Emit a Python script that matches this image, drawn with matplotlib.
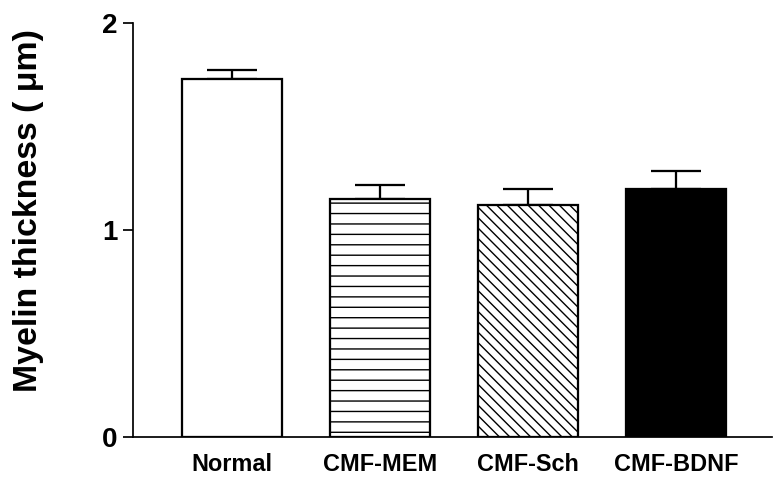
import matplotlib.pyplot as plt
import numpy as np

plt.rcParams['font.family'] = ['Liberation Sans', 'DejaVu Sans']
plt.rcParams['font.weight'] = 'bold'
plt.rcParams['hatch.linewidth'] = 0.8

groups = ["Normal", "CMF-MEM", "CMF-Sch", "CMF-BDNF"]
means = [1.73, 1.15, 1.12, 1.20]
sems = [0.044, 0.068, 0.077, 0.087]

dpi = 125
fig = plt.figure(figsize=(773 / dpi, 484 / dpi), dpi=dpi)
ax = fig.add_axes([133 / 773, 1 - 437 / 484, 639 / 773, 414 / 484])

x = np.arange(len(groups))
faces = ["white", "white", "white", "black"]
hatches = ["", "--", "\\\\\\\\", ""]
ax.errorbar(x, means, yerr=[np.zeros(len(means)), sems], fmt="none",
            ecolor="black", elinewidth=1.3, capsize=14.5, capthick=1.3, zorder=1)
ax.bar(x, means, width=0.67, color=faces, edgecolor="black", linewidth=1.3,
       hatch=hatches, zorder=2)

ax.set_xlim(-0.669, 3.649)
ax.set_ylim(0, 2)
ax.set_yticks([0, 1, 2])
ax.set_xticks(x)
ax.set_xticklabels(groups, fontsize=13.5, fontweight="bold")
ax.tick_params(axis="y", length=6, width=1, labelsize=16, direction="out", pad=3)
ax.tick_params(axis="x", length=0, pad=9)
for lab in ax.get_yticklabels():
    lab.set_fontweight("bold")

ax.spines["top"].set_visible(False)
ax.spines["right"].set_visible(False)
ax.spines["left"].set_linewidth(1)
ax.spines["bottom"].set_linewidth(1)

fig.text(29 / 773, 1 - 210 / 484, "Myelin thickness ( μm)", rotation=90,
         ha="center", va="center", fontsize=19.5, fontweight="bold")

fig.savefig("out.png", dpi=dpi)
